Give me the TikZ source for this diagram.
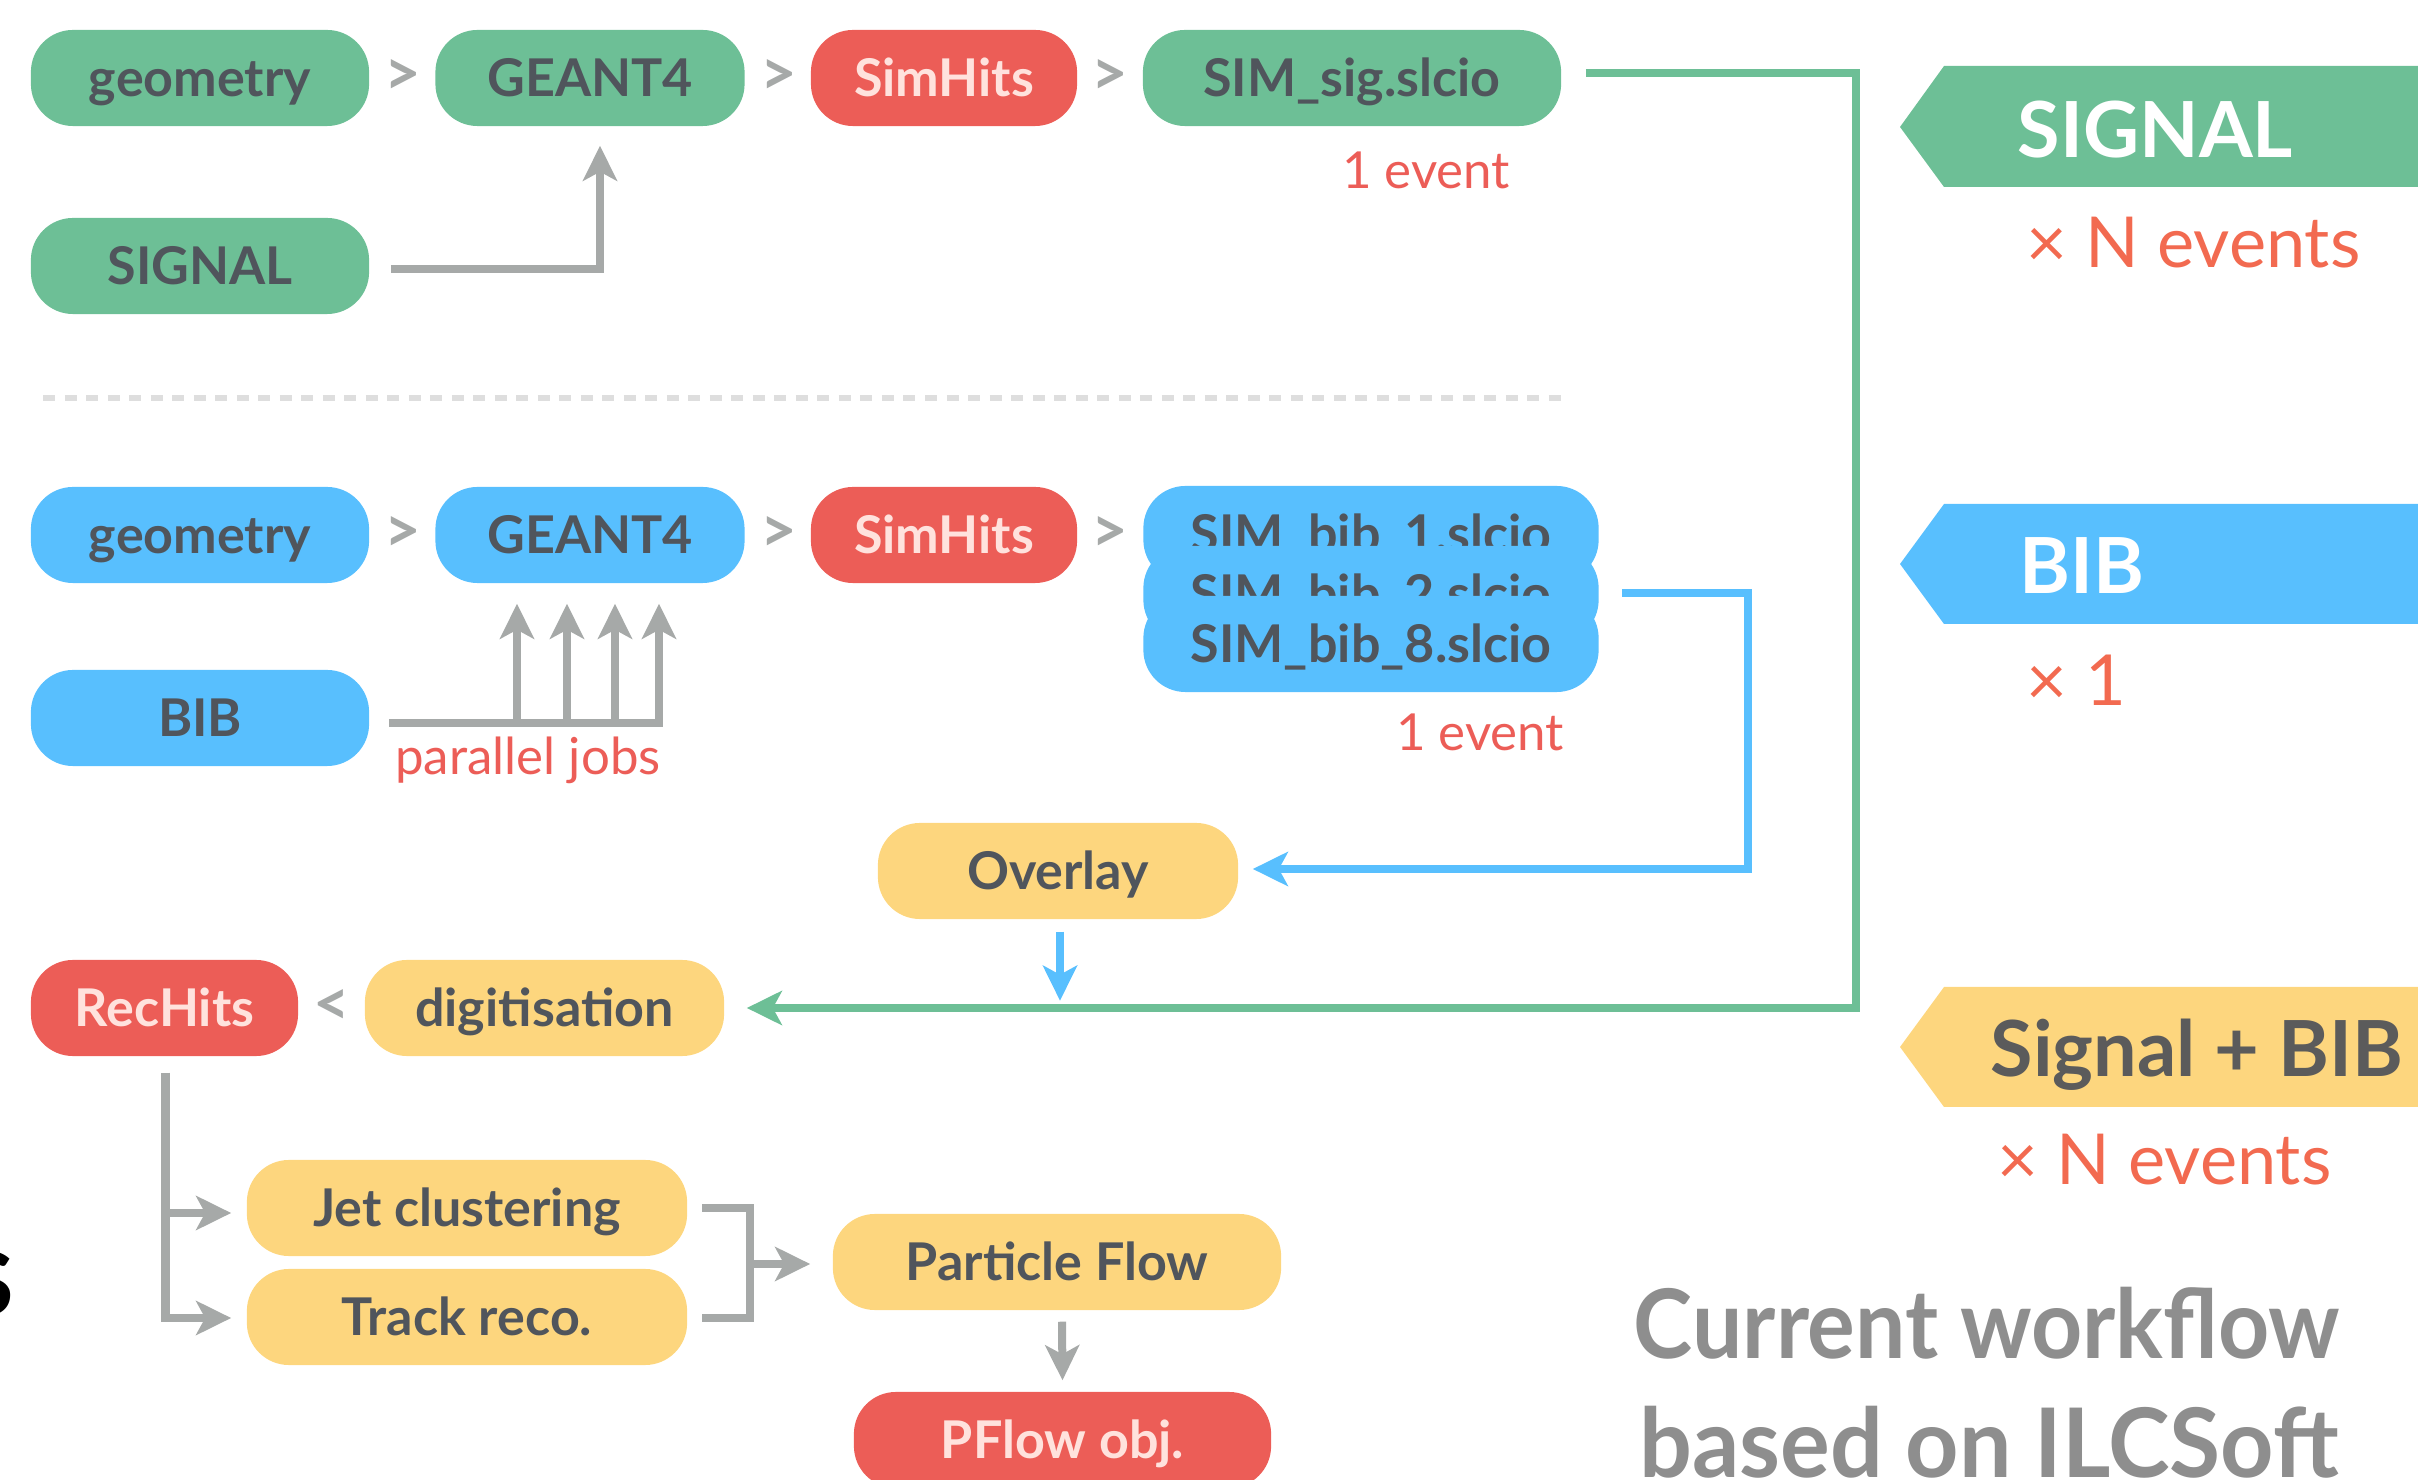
\documentclass[tikz,border=0pt]{standalone}
\usepackage{fontspec}
\setmainfont{Lato}
\newfontfamily\titlefontA{Lato}[FakeStretch=0.93]
\newfontfamily\titlefontB{Lato}[FakeStretch=0.97]
\usetikzlibrary{arrows.meta,calc}

\definecolor{cgreen}{HTML}{6DBF96}
\definecolor{cred}{HTML}{EC5D57}
\definecolor{cblue}{HTML}{58BFFE}
\definecolor{cyellow}{HTML}{FDD67E}
\definecolor{ink}{HTML}{50555C}
\definecolor{pinktext}{HTML}{FFE2DD}
\definecolor{cgray}{HTML}{A6A9A8}
\definecolor{dashgray}{HTML}{DEDEDE}
\definecolor{corange}{HTML}{F26A50}
\definecolor{bannerink}{HTML}{5B5B5B}
\definecolor{titlegray}{HTML}{8E8E8E}

\newcommand\pillfont{\bfseries\fontsize{14.8}{16}\selectfont}

\begin{document}
\begin{tikzpicture}[x=0.01cm, y=-0.01cm,
  pill/.style={rounded corners=0.42cm, minimum height=0.96cm, inner sep=0pt,
    text height=0.375cm, text depth=0cm, font=\pillfont, text=ink},
  gpill/.style={pill, fill=cgreen},
  bpill/.style={pill, fill=cblue},
  rpill/.style={pill, fill=cred, text=pinktext},
  ypill/.style={pill, fill=cyellow},
  sep/.style={text=cgray, font=\bfseries\fontsize{18}{20}\selectfont, inner sep=0pt},
  annot/.style={text=cred, font=\fontsize{14.5}{16}\selectfont, inner sep=0pt},
  factor/.style={text=corange, font=\fontsize{20}{24}\selectfont, inner sep=0pt, anchor=base west},
  bannertext/.style={font=\bfseries\fontsize{22}{26}\selectfont, inner sep=0pt, anchor=base west},
  titletext/.style={text=titlegray, inner sep=0pt, anchor=base},
  link/.style={line width=0.08cm, >={Stealth[length=0.35cm, width=0.34cm, inset=0.09cm]}},
  glink/.style={link, draw=cgray},
  greenlink/.style={link, draw=cgreen},
  bluelink/.style={link, draw=cblue},
]
\useasboundingbox (0,0) rectangle (2418,1480);

% ---------------- signal chain ----------------
\node[gpill, minimum width=3.38cm] (geo1)   at (200,78)  {geometry};
\node[gpill, minimum width=3.09cm] (g4a)    at (590,78)  {GEANT4};
\node[rpill, minimum width=2.66cm] (sh1)    at (944,78)  {SimHits};
\node[gpill, minimum width=4.18cm] (simsig) at (1352,78) {SIM\_sig.slcio};
\node[gpill, minimum width=3.38cm] (sig)    at (200,266) {SIGNAL};
\node[sep] (s1) at (403,78)  {>};
\node[sep] (s2) at (779,78)  {>};
\node[sep] (s3) at (1110,78) {>};
\node[annot, anchor=base] (ev1) at (1426,189) {1 event};

\draw[glink,->] ($(sig.east)+(21,3)$) -| ($(g4a.south)+(10,19)$);

% separator between the two samples
\draw[dashgray, line width=0.06cm, dash pattern=on 0.12cm off 0.095cm] (43,398) -- (1570,398);

% ---------------- BIB chain ----------------
\node[bpill, minimum width=3.38cm] (geo2) at (200,535) {geometry};
\node[bpill, minimum width=3.09cm] (g4b)  at (590,535) {GEANT4};
\node[rpill, minimum width=2.66cm] (sh2)  at (944,535) {SimHits};
\node[sep] (s4) at (403,535)  {>};
\node[sep] (s5) at (779,535)  {>};
\node[sep] (s6) at (1110,535) {>};
\node[bpill, minimum width=4.55cm] (bib1) at (1371,534) {SIM\_bib\_1.slcio};
\node[bpill, minimum width=4.55cm] (bib2) at (1371,594) {SIM\_bib\_2.slcio};
\node[bpill, minimum width=4.55cm] (bib3) at (1371,644) {SIM\_bib\_8.slcio};
\node[annot, anchor=base] (ev2) at (1480,751) {1 event};
\node[bpill, minimum width=3.38cm] (bibsrc) at (200,718) {BIB};
\node[annot, anchor=base] (pjobs) at (528,775) {parallel jobs};

\draw[glink,->] ($(bibsrc.east)+(19,5)$) -| ($(g4b.south)+(69,20)$);
\foreach \dx in {-73,-23,25}
  \draw[glink,->] ($(g4b.south)+(\dx,140)$) -- ($(g4b.south)+(\dx,20)$);

% ---------------- overlay and reconstruction ----------------
\node[ypill, minimum width=3.60cm] (overlay) at (1058,871)  {Overlay};
\node[rpill, minimum width=2.67cm] (rechits) at (164.5,1008) {RecHits};
\node[ypill, minimum width=3.59cm] (digit)   at (544.5,1008) {digitisation};
\node[sep] (s7) at (332,1008) {<};
\node[ypill, minimum width=4.40cm] (jet)   at (467,1208)  {Jet clustering};
\node[ypill, minimum width=4.40cm] (track) at (467,1317)  {Track reco.};
\node[ypill, minimum width=4.48cm] (pflow) at (1057,1262) {Particle Flow};
\node[rpill, minimum width=4.17cm] (pobj)  at (1062.5,1440) {PFlow obj.};

\coordinate (gturn) at ($(simsig.east)+(294,-5)$);
\draw[greenlink,->] ($(simsig.east)+(24,-5)$) -- (gturn) |- ($(digit.east)+(22,0)$);

\coordinate (bturn) at ($(bib2.east)+(149,-1)$);
\draw[bluelink,->] ($(bib2.east)+(23,-1)$) -- (bturn) |- ($(overlay.east)+(14,-2)$);
\draw[bluelink,->] ($(overlay.south)+(2,12)$) -- ($(overlay.south)+(2,81)$);

\coordinate (rs) at ($(rechits.south)+(1,16)$);
\draw[glink,->] (rs) |- ($(track.west)+(-15,1)$);
\draw[glink,->] ($(rs |- jet.west)+(0,5)$) -- ($(jet.west)+(-15,5)$);

\coordinate (bx) at ($(jet.east)+(62,0)$);
\draw[glink] ($(jet.east)+(14,0)$) -- (bx) |- ($(track.east)+(14,1)$);
\draw[glink,->] ($(bx |- pflow.west)+(0,2)$) -- ($(pflow.west)+(-22,2)$);
\draw[glink,->] ($(pflow.south)+(5,11)$) -- ($(pobj.north)+(0,-11)$);

% ---------------- banners on the right ----------------
\fill[cgreen]  (1944,66)  -- (1900,127)  -- (1944,187)  -- (2430,187)  -- (2430,66)  -- cycle;
\fill[cblue]   (1944,504) -- (1900,564)  -- (1944,624)  -- (2430,624)  -- (2430,504) -- cycle;
\fill[cyellow] (1944,987) -- (1900,1047) -- (1944,1107) -- (2430,1107) -- (2430,987) -- cycle;
\node[bannertext, text=white]     (bsig)  at (2017,158)  {SIGNAL};
\node[bannertext, text=white]     (bbib)  at (2019,594)  {BIB};
\node[bannertext, text=bannerink] (bboth) at (1990,1077) {Signal + BIB};
\node[factor] (fsig)  at (2026,268)  {× N events};
\node[factor] (fbib)  at (2026,706)  {× 1};
\node[factor] (fboth) at (1997,1185) {× N events};

% ---------------- caption ----------------
\node[titletext, font=\titlefontA\bfseries\fontsize{27.3}{30}\selectfont] (title1) at (1987,1359) {Current workflow};
\node[titletext, font=\titlefontB\bfseries\fontsize{27.3}{30}\selectfont] (title2) at (1989,1477) {based on ILCSoft};

% letter of a heading running in from the left edge
\node[anchor=base east, inner sep=0pt, font=\bfseries\fontsize{35}{40}\selectfont] (edge) at (15,1316) {s};
\end{tikzpicture}
\end{document}
